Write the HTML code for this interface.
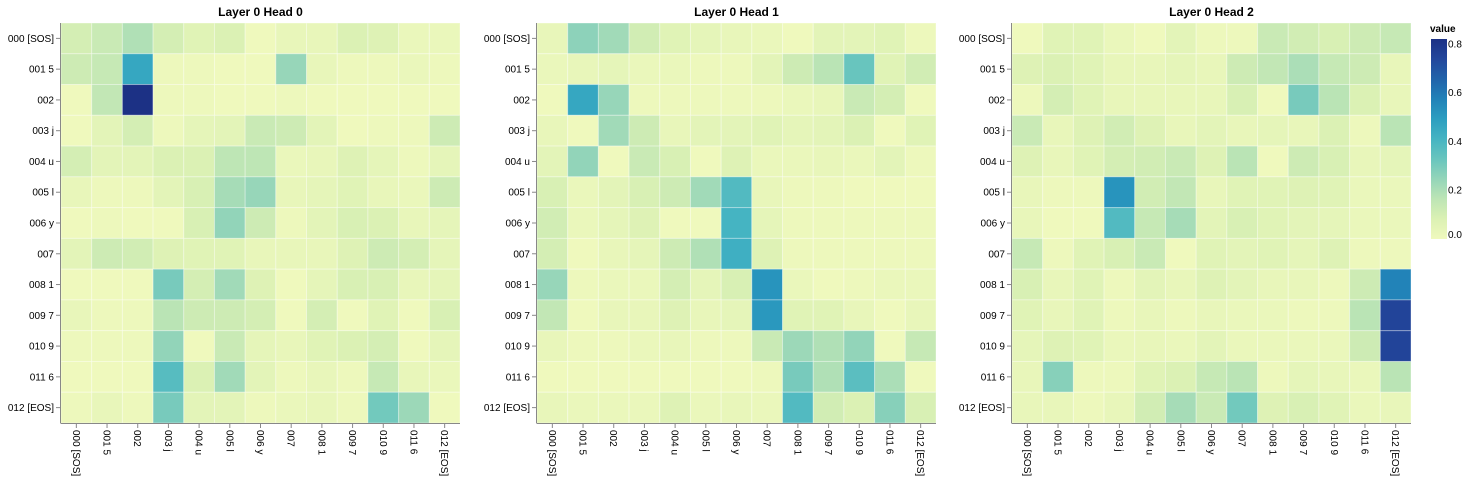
<!DOCTYPE html>
<html><head><meta charset="utf-8"><style>
html,body{margin:0;padding:0;background:#fff;}
svg{display:block;font-family:"Liberation Sans",Arial,sans-serif;}
</style></head><body>
<svg id="chart" width="1468" height="483" viewBox="0 0 1468 483" xmlns="http://www.w3.org/2000/svg">
<defs>
<linearGradient id="lg" x1="0" y1="1" x2="0" y2="0">
<stop offset="0" stop-color="#eff9bd"/><stop offset="0.1" stop-color="#dbf1b4"/><stop offset="0.2" stop-color="#bde5b5"/><stop offset="0.3" stop-color="#94d5b9"/><stop offset="0.4" stop-color="#69c5be"/><stop offset="0.5" stop-color="#45b4c2"/><stop offset="0.6" stop-color="#2c9ec0"/><stop offset="0.7" stop-color="#2182b8"/><stop offset="0.8" stop-color="#2163aa"/><stop offset="0.9" stop-color="#23479c"/><stop offset="1" stop-color="#1c3185"/>
</linearGradient>
</defs>
</svg>
<script>
const tokens = ["000 [SOS]","001 5","002","003 j","004 u","005 l","006 y","007","008 1","009 7","010 9","011 6","012 [EOS]"];
const titles = ["Layer 0 Head 0","Layer 0 Head 1","Layer 0 Head 2"];
const head0 = [
[.10,.13,.19,.10,.06,.08,0,.03,.03,.08,.07,.02,.02],
[.12,.14,.46,.01,.01,0,0,.24,.03,.01,.01,.02,.01],
[0,.15,.82,.01,.01,0,0,.01,0,0,0,0,0],
[0,.05,.10,.01,.04,.05,.13,.12,.05,0,.01,.01,.12],
[.10,.05,.05,.08,.08,.16,.16,.02,.03,.07,.04,.01,.04],
[.03,.01,.01,.05,.09,.21,.24,.03,.04,.06,.03,.02,.12],
[0,.01,0,0,.09,.25,.12,.01,.05,.09,.08,.03,.04],
[.05,.12,.11,.07,.06,.06,.03,.03,.03,.07,.12,.10,.04],
[0,0,0,.30,.10,.22,.07,0,.04,.09,.09,.03,.04],
[.03,.01,.01,.17,.12,.12,.10,0,.10,0,.06,0,.09],
[.01,.01,.01,.25,0,.13,.04,.03,.06,.08,.10,0,.04],
[0,0,0,.37,.08,.22,.05,.01,.03,.01,.14,.03,.02],
[.01,.03,.01,.30,.05,.05,.01,.02,.03,.01,.31,.23,0]];
const head1 = [
[.03,.26,.22,.11,.06,.04,.03,.02,0,.05,.05,.06,.01],
[.02,.03,.04,.02,.02,.01,.01,.05,.12,.17,.33,.06,.11],
[0,.46,.24,.01,.01,.01,.01,.01,.02,.03,.13,.10,0],
[.03,0,.22,.12,.03,.05,.05,.06,.04,.05,.08,0,.06],
[.05,.25,0,.13,.09,0,.07,.02,.02,.03,.02,.05,.01],
[.09,.02,.05,.09,.12,.22,.38,.03,.01,.01,0,0,0],
[.11,.02,.04,.07,0,0,.41,.04,.01,.01,.01,.01,.01],
[.10,0,.03,.04,.12,.19,.43,.07,.01,.01,.01,.01,.01],
[.24,.01,.02,.02,.10,.04,.09,.52,.02,0,.01,.02,.02],
[.15,0,.03,.03,.07,.03,.04,.51,.06,.06,.03,0,.03],
[.03,.01,.01,.02,.03,.01,.01,.13,.23,.19,.25,0,.14],
[0,0,0,0,0,0,0,.01,.30,.19,.36,.20,0],
[.03,.02,.02,.02,.07,.02,.03,.02,.38,.11,.08,.27,.09]];
const head2 = [
[0,.06,.06,.02,0,.05,.01,.01,.13,.11,.09,.12,.14],
[.07,.08,.06,.03,.03,.04,.03,.12,.15,.20,.14,.12,.03],
[.01,.10,.06,.03,.03,.03,.03,.09,0,.30,.17,.08,.03],
[.13,.03,.07,.11,.07,.03,.05,.03,.04,.03,.08,.01,.17],
[.07,.03,.06,.10,.11,.13,.07,.17,0,.12,.09,.03,.04],
[.03,.01,.01,.52,.11,.15,.03,.06,.06,.07,.06,.02,.02],
[.03,0,0,.38,.14,.21,.05,.09,.06,.05,.04,.02,.02],
[.14,.01,.06,.09,.13,0,.06,.05,.06,.04,.07,.01,.01],
[.09,.03,.06,.01,.05,.03,.07,.05,.03,.03,.01,.12,.57],
[.06,.03,.06,.01,.03,.01,.03,.02,.02,.01,.01,.17,.75],
[.04,.07,.06,.02,.03,.02,.05,.02,.02,.02,.02,.12,.75],
[.03,.27,.01,.01,.06,.08,.14,.17,.01,.04,.03,.02,.17],
[.03,.03,.01,.03,.11,.21,.13,.31,.07,.09,.06,.02,.03]];
const legendTicks = [0, 0.2, 0.4, 0.6, 0.8];
const heads = [head0, head1, head2];

const NS = "http://www.w3.org/2000/svg";
const svgEl = document.getElementById("chart");
const vmax = 0.82;
const stops = ["#eff9bd","#dbf1b4","#bde5b5","#94d5b9","#69c5be","#45b4c2","#2c9ec0","#2182b8","#2163aa","#23479c","#1c3185"];
function hex(c){return [1,3,5].map(i=>parseInt(c.substr(i,2),16));}
function color(v){
  let t=Math.max(0,Math.min(1,v/vmax))*(stops.length-1);
  let i=Math.min(stops.length-2,Math.floor(t)),f=t-i;
  let a=hex(stops[i]),b=hex(stops[i+1]);
  return "rgb("+a.map((x,k)=>Math.round(x+(b[k]-x)*f)).join(",")+")";
}
function mk(tag,attrs,parent){const e=document.createElementNS(NS,tag);for(const k in attrs)e.setAttribute(k,attrs[k]);(parent||svgEl).appendChild(e);return e;}
const panelX=[61,537,1012], plotW=399, plotTop=23, plotH=400;
heads.forEach((data,p)=>{
  const g=mk("g",{});
  
  
  const x0=panelX[p], cw=plotW/tokens.length, ch=plotH/tokens.length;
  const xs=i=>x0+i*cw, ys=j=>plotTop+j*ch;
  const t=mk("text",{x:x0+plotW/2,y:16,"text-anchor":"middle","font-size":"12","font-weight":"bold",fill:"#000"},g);
  t.textContent=titles[p];
  
  
  data.forEach((row,j)=>row.forEach((v,i)=>{
    const r=mk("rect",{x:xs(i),y:ys(j),width:cw,height:ch,fill:color(v),stroke:"#ffffff","stroke-opacity":"0.35","stroke-width":"1"},g);
    
    
  }));
  mk("line",{x1:x0-0.5,y1:plotTop,x2:x0-0.5,y2:plotTop+plotH,stroke:"#888"},g);
  mk("line",{x1:x0-0.5,y1:plotTop+plotH+0.5,x2:x0+plotW,y2:plotTop+plotH+0.5,stroke:"#888"},g);
  tokens.forEach((tk,k)=>{
    const y=ys(k)+ch/2;
    mk("line",{x1:x0-5,y1:y,x2:x0,y2:y,stroke:"#888"},g);
    const lt=mk("text",{x:x0-7,y:y+3.5,"text-anchor":"end","font-size":"10",fill:"#000"},g);
    lt.textContent=tk;
    
    
    const x=xs(k)+cw/2;
    mk("line",{x1:x,y1:plotTop+plotH,x2:x,y2:plotTop+plotH+5,stroke:"#888"},g);
    const bt=mk("text",{x:0,y:0,"font-size":"10",fill:"#000",transform:"translate("+(x-3.5)+","+(plotTop+plotH+7)+") rotate(90)"},g);
    bt.textContent=tk;
    
    
  });
});
const lg=mk("g",{});


const ltitle=mk("text",{x:1430,y:32,"font-size":"10","font-weight":"bold",fill:"#000"},lg);
ltitle.textContent="value";
const lx=1431, ly0=39, lh=200;
mk("rect",{x:lx,y:ly0,width:16,height:lh,fill:"url(#lg)"},lg);
const ly=v=>ly0+lh*(1-v/vmax);
legendTicks.forEach(v=>{
  let y=ly(v)+3.5; y=Math.max(ly0+8,Math.min(ly0+lh-1,y));
  const tt=mk("text",{x:1448,y:y,"font-size":"10",fill:"#000"},lg);
  tt.textContent=v.toFixed(1);
  
  
});
</script>
</body></html>
